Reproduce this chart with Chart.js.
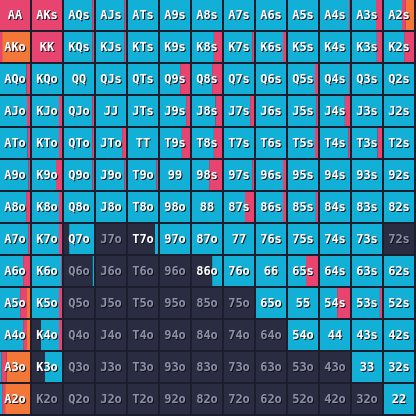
<!DOCTYPE html>
<html>
<head>
<meta charset="utf-8">
<script src="https://cdn.jsdelivr.net/npm/chart.js@4"></script>
<style>
  html, body { margin: 0; padding: 0; background: #1c1e2d; overflow: hidden; }
  #wrap { position: absolute; left: 0; top: -1px; width: 416px; height: 416px; }
</style>
</head>
<body>
<div id="wrap"><canvas id="grid" width="416" height="416"></canvas></div>
<script>
const ranks = ['A', 'K', 'Q', 'J', 'T', '9', '8', '7', '6', '5', '4', '3', '2'];

// percentages per hand, rows = first rank, cols = second rank
const callPct = [
  [0, 0, 94, 95, 100, 100, 100, 100, 100, 100, 97, 80, 60],
  [0, 0, 95, 95, 100, 100, 73, 94, 90, 100, 100, 83, 67],
  [88, 100, 100, 100, 100, 67, 67, 100, 100, 90, 97, 100, 100],
  [90, 90, 94, 100, 100, 87, 78, 87, 100, 94, 83, 100, 100],
  [92, 90, 94, 87, 100, 73, 73, 100, 100, 90, 94, 85, 100],
  [95, 80, 95, 95, 95, 100, 57, 94, 90, 100, 100, 100, 100],
  [87, 90, 100, 100, 100, 100, 100, 70, 90, 93, 100, 100, 100],
  [94, 90, 83, 0, 10, 100, 100, 100, 100, 100, 100, 100, 0],
  [77, 97, 5, 0, 0, 0, 33, 100, 100, 60, 100, 100, 100],
  [67, 90, 0, 0, 0, 0, 0, 0, 100, 100, 57, 93, 100],
  [77, 60, 0, 0, 0, 0, 0, 0, 0, 100, 100, 100, 100],
  [5, 57, 0, 0, 0, 0, 0, 0, 0, 0, 0, 100, 100],
  [7, 0, 0, 0, 0, 0, 0, 0, 0, 0, 0, 0, 100]
];
const raisePct = [
  [100, 100, 6, 5, 0, 0, 0, 0, 0, 0, 3, 20, 13],
  [7, 100, 5, 5, 0, 0, 27, 6, 10, 0, 0, 17, 33],
  [12, 0, 0, 0, 0, 33, 33, 0, 0, 10, 3, 0, 0],
  [10, 10, 6, 0, 0, 13, 22, 13, 0, 6, 17, 0, 0],
  [8, 10, 6, 13, 0, 27, 27, 0, 0, 10, 6, 15, 0],
  [5, 20, 5, 5, 5, 0, 43, 6, 10, 0, 0, 0, 0],
  [13, 10, 0, 0, 0, 0, 0, 30, 10, 7, 0, 0, 0],
  [6, 10, 0, 0, 0, 0, 0, 0, 0, 0, 0, 0, 0],
  [23, 3, 0, 0, 0, 0, 0, 0, 0, 40, 0, 0, 0],
  [23, 10, 0, 0, 0, 0, 0, 0, 0, 0, 43, 7, 0],
  [13, 10, 0, 0, 0, 0, 0, 0, 0, 0, 0, 0, 0],
  [17, 0, 0, 0, 0, 0, 0, 0, 0, 0, 0, 0, 0],
  [10, 0, 0, 0, 0, 0, 0, 0, 0, 0, 0, 0, 0]
];
const allinPct = [
  [0, 0, 0, 0, 0, 0, 0, 0, 0, 0, 0, 0, 27],
  [93, 0, 0, 0, 0, 0, 0, 0, 0, 0, 0, 0, 0],
  [0, 0, 0, 0, 0, 0, 0, 0, 0, 0, 0, 0, 0],
  [0, 0, 0, 0, 0, 0, 0, 0, 0, 0, 0, 0, 0],
  [0, 0, 0, 0, 0, 0, 0, 0, 0, 0, 0, 0, 0],
  [0, 0, 0, 0, 0, 0, 0, 0, 0, 0, 0, 0, 0],
  [0, 0, 0, 0, 0, 0, 0, 0, 0, 0, 0, 0, 0],
  [0, 0, 0, 0, 0, 0, 0, 0, 0, 0, 0, 0, 0],
  [0, 0, 0, 0, 0, 0, 0, 0, 0, 0, 0, 0, 0],
  [10, 0, 0, 0, 0, 0, 0, 0, 0, 0, 0, 0, 0],
  [10, 0, 0, 0, 0, 0, 0, 0, 0, 0, 0, 0, 0],
  [78, 0, 0, 0, 0, 0, 0, 0, 0, 0, 0, 0, 0],
  [83, 0, 0, 0, 0, 0, 0, 0, 0, 0, 0, 0, 0]
];

const actionNames = ['Fold', 'Call', 'Raise', 'All-in'];
const actionColors = ['#2a2c41', '#12afd6', '#e7456f', '#f4773a'];

const cellW = 30 / 32; // cell width in grid units, rest is the gap

function parts(i, j) {
  const c = callPct[i][j], r = raisePct[i][j], a = allinPct[i][j];
  return [100 - c - r - a, c, r, a];
}

function handName(i, j) {
  if (i === j) return ranks[i] + ranks[j];
  if (j > i) return ranks[i] + ranks[j] + 's';
  return ranks[j] + ranks[i] + 'o';
}

function segments(k) {
  const out = [];
  for (let i = 0; i < 13; i++) {
    for (let j = 0; j < 13; j++) {
      const p = parts(i, j);
      let cum = 0;
      for (let m = 0; m < k; m++) cum += p[m];
      if (p[k] <= 0) continue;
      const start = j + cum / 100 * cellW;
      out.push({ y: ranks[i], x: [start, start + p[k] / 100 * cellW] });
    }
  }
  return out;
}

const labelPlugin = {
  id: 'handLabels',
  afterDatasetsDraw(chart) {
    const ctx = chart.ctx;
    const xs = chart.scales.x, ys = chart.scales.y;
    ctx.save();
    ctx.font = 'bold 12px "DejaVu Sans Mono"';
    ctx.textAlign = 'center';
    ctx.textBaseline = 'middle';
    for (let i = 0; i < 13; i++) {
      for (let j = 0; j < 13; j++) {
        const x = xs.getPixelForValue(j + cellW / 2);
        const y = ys.getPixelForValue(i) + 1;
        const name = handName(i, j);
        const active = parts(i, j)[0] < 93;
        ctx.fillStyle = '#12131f';
        ctx.fillText(name, x + 1, y + 1);
        ctx.fillStyle = active ? '#ffffff' : '#8c90a4';
        ctx.fillText(name, x, y);
      }
    }
    ctx.restore();
  }
};

new Chart(document.getElementById('grid'), {
  type: 'bar',
  data: {
    labels: ranks,
    datasets: actionNames.map((name, k) => ({
      label: name,
      data: segments(k),
      backgroundColor: actionColors[k],
      borderWidth: 0,
      grouped: false,
      barPercentage: 30 / 32,
      categoryPercentage: 1
    }))
  },
  options: {
    indexAxis: 'y',
    responsive: false,
    animation: false,
    layout: { padding: 0 },
    plugins: { legend: { display: false }, tooltip: { enabled: false } },
    scales: {
      x: { type: 'linear', min: 0, max: 13, display: false },
      y: { type: 'category', display: false, offset: true }
    }
  },
  plugins: [labelPlugin]
});
</script>
</body>
</html>
